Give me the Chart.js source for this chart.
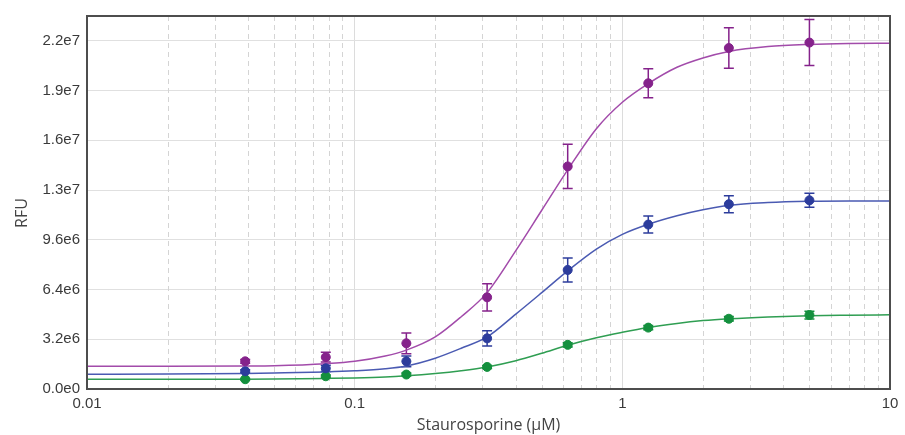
<!DOCTYPE html>
<html><head><meta charset="utf-8">
<script src="https://cdn.jsdelivr.net/npm/chart.js@4.4.0/dist/chart.umd.min.js"></script>
<style>html,body{margin:0;padding:0;background:#fff}#wrap{width:905px;height:435px;position:relative}</style>
</head><body><div id="wrap"><canvas id="c" width="905" height="435"></canvas></div>
<script>
// ---- data ----
const concentrations = [0.039, 0.078, 0.156, 0.3125, 0.625, 1.25, 2.5, 5];
const purpleMeans = [1.78e6, 2.05e6, 2.94e6, 5.9e6, 14.32e6, 19.67e6, 21.94e6, 22.29e6];
const purpleErrors = [0.12e6, 0.32e6, 0.67e6, 0.88e6, 1.42e6, 0.93e6, 1.3e6, 1.48e6];
const blueMeans = [1.14e6, 1.33e6, 1.78e6, 3.26e6, 7.66e6, 10.58e6, 11.89e6, 12.14e6];
const blueErrors = [0.1e6, 0.2e6, 0.35e6, 0.49e6, 0.77e6, 0.55e6, 0.55e6, 0.45e6];
const greenMeans = [0.63e6, 0.82e6, 0.93e6, 1.42e6, 2.84e6, 3.95e6, 4.52e6, 4.76e6];
const greenErrors = [0.05e6, 0.08e6, 0.1e6, 0.1e6, 0.13e6, 0.13e6, 0.15e6, 0.25e6];

const curveX = [0.01, 0.02, 0.039, 0.05, 0.078, 0.1, 0.13, 0.156, 0.2, 0.25, 0.3125, 0.4, 0.5, 0.625, 0.8, 1.0, 1.25, 1.6, 2.0, 2.5, 3.5, 5, 7, 10];
const purpleCurve = [1.46e6, 1.46e6, 1.48e6, 1.5e6, 1.63e6, 1.78e6, 2.12e6, 2.5e6, 3.35e6, 4.65e6, 6.2e6, 8.9e6, 11.5e6, 14.1e6, 16.75e6, 18.45e6, 19.65e6, 20.7e6, 21.3e6, 21.72e6, 22.03e6, 22.17e6, 22.23e6, 22.25e6];
const blueCurve = [0.95e6, 0.96e6, 1.0e6, 1.03e6, 1.1e6, 1.17e6, 1.3e6, 1.48e6, 1.98e6, 2.62e6, 3.35e6, 4.82e6, 6.2e6, 7.6e6, 9.0e6, 9.95e6, 10.6e6, 11.15e6, 11.53e6, 11.82e6, 12.0e6, 12.08e6, 12.1e6, 12.1e6];
const greenCurve = [0.62e6, 0.62e6, 0.63e6, 0.64e6, 0.68e6, 0.71e6, 0.77e6, 0.85e6, 1.0e6, 1.18e6, 1.42e6, 1.82e6, 2.3e6, 2.82e6, 3.3e6, 3.65e6, 3.96e6, 4.22e6, 4.4e6, 4.52e6, 4.64e6, 4.72e6, 4.75e6, 4.77e6];

const yTickValues = [0, 3.2e6, 6.4e6, 9.6e6, 12.8e6, 16e6, 19.2e6, 22.4e6];
const yTickLabels = ['0.0e0', '3.2e6', '6.4e6', '9.6e6', '1.3e7', '1.6e7', '1.9e7', '2.2e7'];
const xTickValues = [0.01, 0.1, 1, 10];
const xTickLabels = ['0.01', '0.1', '1', '10'];
const xMinorGrid = [0.02,0.03,0.04,0.05,0.06,0.07,0.08,0.09,0.2,0.3,0.4,0.5,0.6,0.7,0.8,0.9,2,3,4,5,6,7,8,9];
const xTitle = 'Staurosporine (µM)';
const yTitle = 'RFU';

// ---- styles ----
const pointColors = ['#85228B', '#2C3C9C', '#14903E'];
const lineColors = ['#A24BAA', '#4A5AB2', '#2F9E52'];

const pts = (xs, ys) => xs.map((x, i) => ({x, y: ys[i]}));

const errorSets = [purpleErrors, blueErrors, greenErrors];

const extras = {
  id: 'extras',
  beforeDatasetsDraw(chart) {
    const {ctx, chartArea: a, scales: {x, y}} = chart;
    ctx.save();
    ctx.strokeStyle = '#d4d4d4';
    ctx.lineWidth = 1;
    ctx.setLineDash([5, 4]);
    xMinorGrid.forEach(v => {
      const px = Math.round(x.getPixelForValue(v)) + 0.5;
      ctx.beginPath(); ctx.moveTo(px, a.top); ctx.lineTo(px, a.bottom); ctx.stroke();
    });
    ctx.setLineDash([]);
    ctx.lineWidth = 1.5;
    [0, 1, 2].forEach(k => {
      const ds = chart.data.datasets[k];
      ctx.strokeStyle = pointColors[k];
      ds.data.forEach((p, i) => {
        const e = errorSets[k][i];
        const px = x.getPixelForValue(p.x);
        const y1 = y.getPixelForValue(p.y + e), y2 = y.getPixelForValue(p.y - e);
        ctx.beginPath();
        ctx.moveTo(px, y1); ctx.lineTo(px, y2);
        ctx.moveTo(px - 5, y1); ctx.lineTo(px + 5, y1);
        ctx.moveTo(px - 5, y2); ctx.lineTo(px + 5, y2);
        ctx.stroke();
      });
    });
    ctx.restore();
  },
  afterDraw(chart) {
    const {ctx, chartArea: a} = chart;
    ctx.save();
    ctx.strokeStyle = '#4d4d4d';
    ctx.lineWidth = 2;
    ctx.strokeRect(a.left, a.top, a.right - a.left, a.bottom - a.top);
    ctx.fillStyle = '#444';
    ctx.font = '16px "Open Sans"';
    ctx.textAlign = 'center';
    ctx.textBaseline = 'middle';
    ctx.translate(22, 213);
    ctx.rotate(-Math.PI / 2);
    ctx.fillText(yTitle, 0, 0);
    ctx.restore();
  }
};

const pointDs = (label, means, k) => ({
  type: 'scatter', label, data: pts(concentrations, means),
  backgroundColor: pointColors[k], borderColor: pointColors[k],
  pointRadius: 4.5, pointHoverRadius: 4.5, showLine: false
});
const curveDs = (label, vals, k) => ({
  type: 'line', label, data: pts(curveX, vals),
  borderColor: lineColors[k], borderWidth: 1.5, pointRadius: 0,
  cubicInterpolationMode: 'monotone', fill: false
});

new Chart(document.getElementById('c'), {
  data: {
    datasets: [
      pointDs('A', purpleMeans, 0), pointDs('B', blueMeans, 1), pointDs('C', greenMeans, 2),
      curveDs('A fit', purpleCurve, 0), curveDs('B fit', blueCurve, 1), curveDs('C fit', greenCurve, 2)
    ]
  },
  options: {
    responsive: false, animation: false, devicePixelRatio: 1,
    layout: {padding: {left: 0, right: 15, top: 12, bottom: 0}},
    plugins: {legend: {display: false}, tooltip: {enabled: false}},
    scales: {
      x: {
        type: 'logarithmic', min: 0.01, max: 10,
        afterBuildTicks: s => { s.ticks = xTickValues.map(v => ({value: v})); },
        afterFit: s => { s.height = 46; },
        grid: {color: '#dcdcdc', drawTicks: false, lineWidth: 1},
        border: {display: false},
        ticks: {autoSkip: false, maxRotation: 0, padding: 6, color: '#3a3a3a',
          font: {family: '"Liberation Sans", Arial', size: 15},
          callback: (v, i) => xTickLabels[i]},
        title: {display: true, text: xTitle, color: '#444',
          font: {family: '"Open Sans"', size: 16}, padding: {top: 0, bottom: 0}}
      },
      y: {
        type: 'linear', min: 0, max: 2.4e7,
        afterBuildTicks: s => { s.ticks = yTickValues.map(v => ({value: v})); },
        afterFit: s => { s.width = 87; },
        grid: {color: '#e0e0e0', drawTicks: false, lineWidth: 1},
        border: {display: false},
        ticks: {padding: 7, color: '#3a3a3a',
          font: {family: '"Liberation Sans", Arial', size: 15},
          callback: (v, i) => yTickLabels[i]}
      }
    }
  },
  plugins: [extras]
});
</script></body></html>
